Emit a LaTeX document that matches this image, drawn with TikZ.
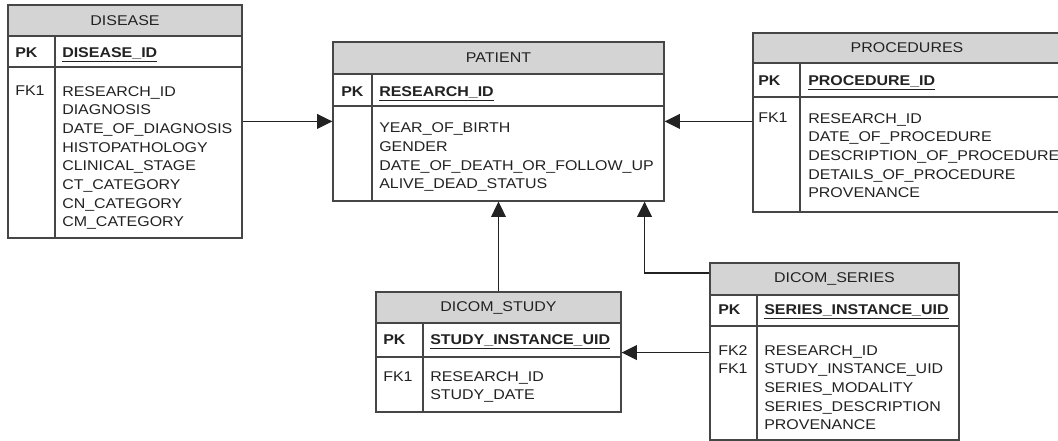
\documentclass[tikz,border=0pt]{standalone}
\usepackage{fontspec}
\setmainfont{Liberation Sans}[FakeStretch=1.13]
\usetikzlibrary{positioning,arrows.meta,fit}
\definecolor{erline}{HTML}{464646}
\definecolor{erhead}{HTML}{D4D4D4}
\definecolor{ertext}{HTML}{222222}

\begin{document}
\begin{tikzpicture}[
  x=0.75pt, y=-0.75pt,
  every node/.style={font=\fontsize{10.6}{14}\selectfont, text=ertext},
  tblhead/.style={draw=erline, fill=erhead, line width=0.85pt, inner sep=0pt},
  tblrow/.style={draw=erline, fill=white, line width=0.85pt, inner sep=0pt},
  keytxt/.style={anchor=base west, inner sep=0pt, font=\fontsize{10.6}{14}\selectfont\bfseries},
  fldtxt/.style={anchor=base west, inner sep=0pt, align=left},
  divider/.style={draw=erline, line width=0.85pt},
  relarr/.style={-{Triangle[length=11.5pt, width=11pt]}, line width=1.1pt, color=ertext}
]
\useasboundingbox (0,0) rectangle (1058,441);

% DISEASE
\node[tblhead, fit={(8,5) (242,36)}, label=center:DISEASE] (dis) {};
\node[tblrow, fit={(8,36) (242,67)}] (disk) {};
\node[tblrow, fit={(8,67) (242,238)}] (disb) {};
\draw[divider] (55,36) -- (55,238);
\node[keytxt] (dispk) at (15,58) {PK};
\node[keytxt] (disid) at (62,58) {\underline{DISEASE\_ID}};
\node[fldtxt] (disfk) at (15,96) {FK1};
\node[fldtxt] (disfl) at (62,227) {RESEARCH\_ID\\DIAGNOSIS\\DATE\_OF\_DIAGNOSIS\\HISTOPATHOLOGY\\CLINICAL\_STAGE\\CT\_CATEGORY\\CN\_CATEGORY\\CM\_CATEGORY};

% PATIENT
\node[tblhead, fit={(333,42) (664,74)}, label=center:PATIENT] (pat) {};
\node[tblrow, fit={(333,74) (664,106)}] (patk) {};
\node[tblrow, fit={(333,106) (664,201)}] (patb) {};
\draw[divider] (372,74) -- (372,201);
\node[keytxt] (patpk) at (341,97) {PK};
\node[keytxt] (patid) at (379,97) {\underline{RESEARCH\_ID}};
\node[fldtxt] (patfl) at (379,189) {YEAR\_OF\_BIRTH\\GENDER\\DATE\_OF\_DEATH\_OR\_FOLLOW\_UP\\ALIVE\_DEAD\_STATUS};

% PROCEDURES (right edge runs past the page)
\node[tblhead, fit={(753,33) (1061,63)}, label=center:PROCEDURES] (proc) {};
\node[tblrow, fit={(753,63) (1061,97)}] (prock) {};
\node[tblrow, fit={(753,97) (1061,212)}] (procb) {};
\draw[divider] (800,63) -- (800,212);
\node[keytxt] (procpk) at (758,86) {PK};
\node[keytxt] (procid) at (808,86) {\underline{PROCEDURE\_ID}};
\node[fldtxt] (procfk) at (758,123) {FK1};
\node[fldtxt] (procfl) at (808,198) {RESEARCH\_ID\\DATE\_OF\_PROCEDURE\\DESCRIPTION\_OF\_PROCEDURE\\DETAILS\_OF\_PROCEDURE\\PROVENANCE};

% DICOM_STUDY
\node[tblhead, fit={(376,292) (621,323)}, label=center:DICOM\_STUDY] (stu) {};
\node[tblrow, fit={(376,323) (621,357)}] (stuk) {};
\node[tblrow, fit={(376,357) (621,412)}] (stub) {};
\draw[divider] (423,323) -- (423,412);
\node[keytxt] (stupk) at (383,345) {PK};
\node[keytxt] (stuid) at (430,345) {\underline{STUDY\_INSTANCE\_UID}};
\node[fldtxt] (stufk) at (383,382) {FK1};
\node[fldtxt] (stufl) at (430,400) {RESEARCH\_ID\\STUDY\_DATE};

% DICOM_SERIES
\node[tblhead, fit={(710,263) (959,295)}, label=center:DICOM\_SERIES] (ser) {};
\node[tblrow, fit={(710,295) (959,326)}] (serk) {};
\node[tblrow, fit={(710,326) (959,440)}] (serb) {};
\draw[divider] (757,295) -- (757,440);
\node[keytxt] (serpk) at (718,315) {PK};
\node[keytxt] (serid) at (764,315) {\underline{SERIES\_INSTANCE\_UID}};
\node[fldtxt] (serfk) at (718,374) {FK2\\FK1};
\node[fldtxt] (serfl) at (764,430) {RESEARCH\_ID\\STUDY\_INSTANCE\_UID\\SERIES\_MODALITY\\SERIES\_DESCRIPTION\\PROVENANCE};

% relations
\coordinate (patin) at ([yshift=-12pt]patb.north west);
\coordinate (patout) at ([yshift=-12pt]patb.north east);
\coordinate (patup) at ([xshift=-15pt]patb.south east);
\coordinate (stuin) at ([yshift=3.75pt]stuk.south east);
\draw[relarr] (disb.east |- patin) -- (patin);
\draw[relarr] (procb.west |- patout) -- (patout);
\draw[relarr] (stu.north) -- (patb.south);
\draw[relarr] ([yshift=4.5pt]ser.west) -| (patup);
\draw[relarr] (serb.west |- stuin) -- (stuin);
\end{tikzpicture}
\end{document}
